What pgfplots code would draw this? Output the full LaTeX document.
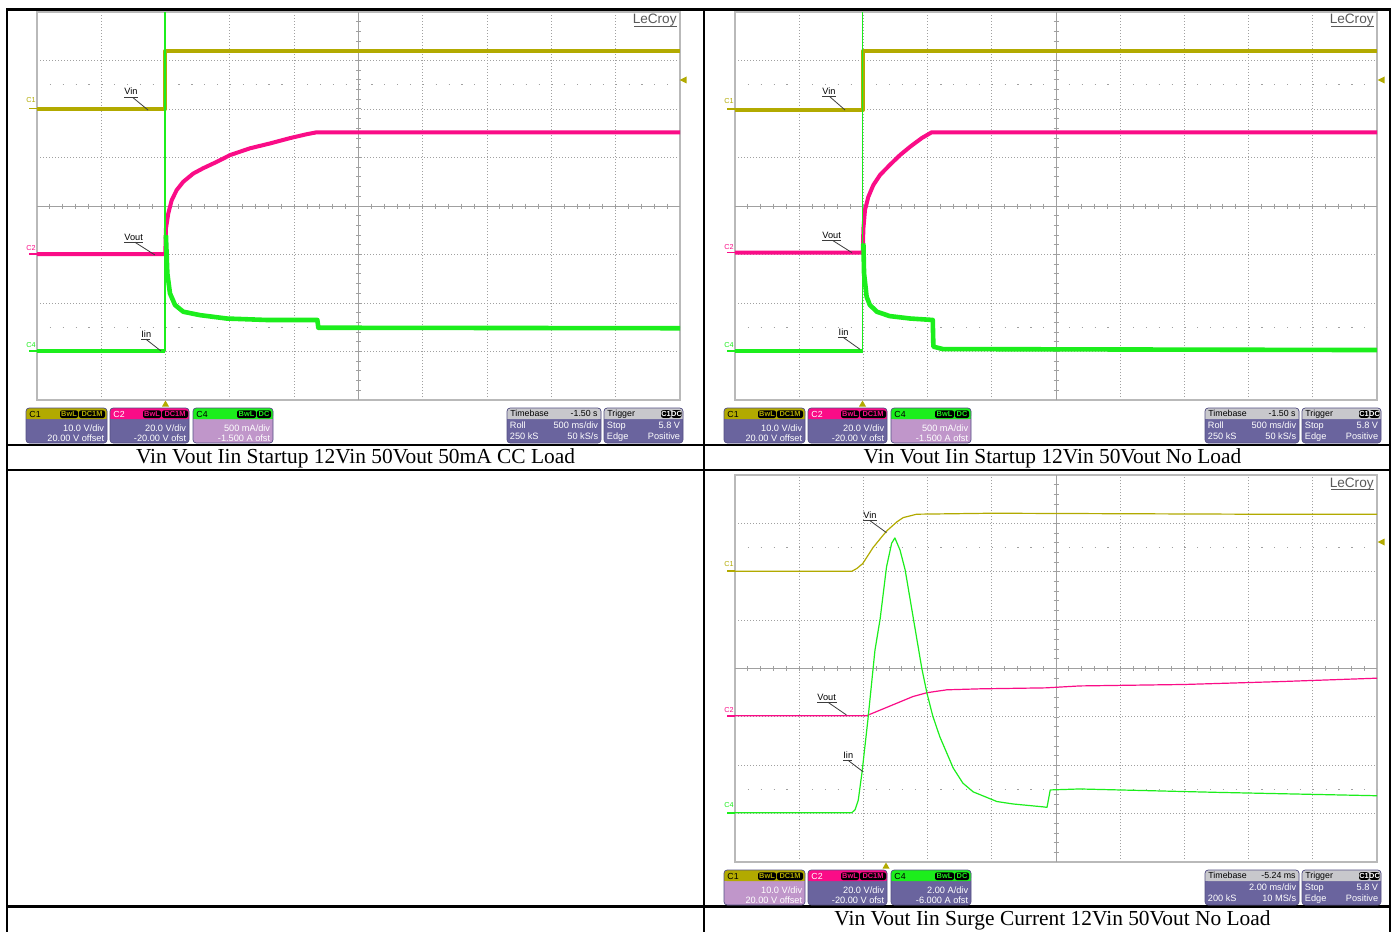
\documentclass[border=0pt]{standalone}
\usepackage{pgfplots}
\pgfplotsset{compat=1.18}
\usepackage{fontspec}
\setmainfont{Liberation Serif}
\newfontfamily\scopefont{Liberation Sans}

\definecolor{vinc}{RGB}{178,170,0}
\definecolor{voutc}{RGB}{250,12,135}
\definecolor{iinc}{RGB}{28,238,28}
\definecolor{gridc}{RGB}{160,160,160}
\definecolor{frmc}{RGB}{185,185,185}
\definecolor{boxc}{RGB}{106,100,158}
\definecolor{boxsel}{RGB}{192,150,202}
\definecolor{boxedge}{RGB}{84,80,132}
\definecolor{tbhead}{RGB}{200,200,204}
\definecolor{logoc}{RGB}{90,90,90}
\definecolor{leadc}{RGB}{60,60,60}

\pgfplotsset{
  scopeaxis/.style={
    anchor=south west, scale only axis,
    xmin=0, xmax=10, ymin=-4, ymax=4,
    axis line style={frmc, line width=0.55pt},
    xtick={1,...,9}, ytick={-3,...,3},
    xticklabels={}, yticklabels={},
    major tick length=0pt,
    xmajorgrids, ymajorgrids,
    major grid style={gridc, line width=0.45pt, dash pattern=on 0.5pt off 1pt},
  },
  thicktrace/.style={line width=2pt, line join=round},
  thintrace/.style={line width=0.6pt, line join=round},
}

% centre cross and the dotted rows at +-2.5 div
\newcommand{\scopegrat}[1]{%
  \draw[gridc, line width=0.5pt] (axis cs:5,-4) -- (axis cs:5,4);
  \draw[gridc, line width=0.5pt] (axis cs:0,0) -- (axis cs:10,0);
  \draw[gridc, line width=0.6pt, dash pattern=on 0.6pt off #1] (axis cs:0.2,2.5) -- (axis cs:10,2.5);
  \draw[gridc, line width=0.6pt, dash pattern=on 0.6pt off #1] (axis cs:0.2,-2.5) -- (axis cs:10,-2.5);
}
% sub-division ticks on the centre cross: left x, top y, div width, div height (px)
\newcommand{\crossticks}[4]{%
  \foreach \i in {1,...,49} {\draw[gridc, line width=0.5pt] (#1+\i*#3/5,#2+4*#4-2.5) -- ++(0,5);}
  \foreach \j in {1,...,39} {\draw[gridc, line width=0.5pt] (#1+5*#3-2.5,#2+\j*#4/5) -- ++(5,0);}
}

\tikzset{
  lbl/.style={inner sep=0, anchor=base west, font=\scopefont\fontsize{4.6}{5}\selectfont, text=black},
  hdr/.style={inner sep=0, anchor=base west, font=\scopefont\fontsize{4.4}{5}\selectfont, text=black},
  bodytxt/.style={inner sep=0, font=\scopefont\fontsize{4.6}{5}\selectfont, text=white},
  chm/.style={inner sep=0, font=\scopefont\fontsize{3.6}{4}\selectfont},
  leader/.style={leadc, line width=0.4pt},
}

% rounded info box: x, y, width, header colour, body colour
\newcommand{\infoframe}[5]{%
  \fill[#5, rounded corners=1.6pt] (#1,#2) rectangle ++(#3,35);
  \fill[#4, rounded corners=1.6pt] (#1,#2) rectangle ++(#3,11);
  \fill[#4] (#1,#2+5) rectangle ++(#3,6);
  \draw[boxedge, line width=0.35pt, rounded corners=1.6pt] (#1,#2) rectangle ++(#3,35);
}
% left and right text on one row: x, baseline, width, left, right
\newcommand{\lrtext}[5]{%
  \node[bodytxt, anchor=base west] at (#1+2.5,#2) {#4};
  \node[bodytxt, anchor=base east] at (#1+#3-2.5,#2) {#5};
}
% black badge: x, y, width, text colour, text
\newcommand{\chbadge}[5]{%
  \fill[black, rounded corners=1pt] (#1,#2) rectangle ++(#3,7.6);
  \node[inner sep=0, text=#4, font=\scopefont\bfseries\fontsize{3.7}{4}\selectfont] at (#1+#3/2,#2+3.9) {#5};
}
% the row of channel, timebase and trigger boxes
\newcommand{\infoboxes}[9]{%
  \infoframe{26}{408}{81}{vinc}{#1}
  \node[hdr] at (29,417.3) {C1};
  \chbadge{60}{410.4}{18}{vinc}{BwL}
  \chbadge{79}{410.4}{26}{vinc}{DC1M}
  \lrtext{26}{431}{81}{}{10.0 V/div}
  \lrtext{26}{441}{81}{}{20.00 V offset}
  \infoframe{110}{408}{79}{voutc}{boxc}
  \node[hdr, text=white] at (113,417.3) {C2};
  \chbadge{143}{410.4}{18}{voutc}{BwL}
  \chbadge{162}{410.4}{26}{voutc}{DC1M}
  \lrtext{110}{431}{79}{}{20.0 V/div}
  \lrtext{110}{441}{79}{}{-20.00 V ofst}
  \infoframe{193}{408}{80}{iinc}{#2}
  \node[hdr] at (196,417.3) {C4};
  \chbadge{237}{410.4}{19}{iinc}{BwL}
  \chbadge{257}{410.4}{14}{iinc}{DC}
  \lrtext{193}{431}{80}{}{#3}
  \lrtext{193}{441}{80}{}{#4}
  \infoframe{507}{408}{94}{tbhead}{boxc}
  \node[hdr] at (510,416.5) {Timebase};
  \node[hdr, anchor=base east] at (598,416.5) {#5};
  \lrtext{507}{428.5}{94}{#6}{#7}
  \lrtext{507}{439.3}{94}{#8}{#9}
  \infoframe{604}{408}{79}{tbhead}{boxc}
  \node[hdr] at (607,416.5) {Trigger};
  \chbadge{661}{410.2}{10}{white}{C1}
  \chbadge{671.5}{410.2}{10}{white}{DC}
  \lrtext{604}{428.5}{79}{Stop}{5.8 V}
  \lrtext{604}{439.3}{79}{Edge}{Positive}
}
% logo in the upper right corner of a graticule: right edge x, top y
\newcommand{\lecroylogo}[2]{%
  \fill[white] (#1-48,#2+1) rectangle (#1-1.5,#2+16);
  \node[inner sep=0, anchor=base east, text=logoc, font=\scopefont\fontsize{6.8}{7}\selectfont] at (#1-3,#2+12) {LeCroy};
  \draw[logoc, line width=0.6pt] (#1-46,#2+14.3) -- (#1-3,#2+14.3);
}

\begin{document}
\begin{tikzpicture}
\useasboundingbox (0pt,0pt) rectangle (695.5pt,-465.5pt);
\fill[white] (0pt,0pt) rectangle (695.5pt,-465.5pt);

\begin{scope}[x=0.5pt, y=-0.5pt]
\crossticks{37}{12}{64.3}{48.5}
\crossticks{735}{12}{64.2}{48.5}
\crossticks{735}{475}{64.2}{48.4}
\end{scope}

% ---------------- startup, 50 mA CC load ----------------
\begin{axis}[scopeaxis, at={(18.5pt,-200pt)}, width=321.5pt, height=194pt]
\scopegrat{5.83pt}
\addplot[vinc, thicktrace] coordinates {(0,1.99) (1.99,1.99) (1.99,3.19) (10,3.19)};
\addplot[voutc, thicktrace] coordinates {(0,-0.99) (1.995,-0.99) (2.006,-0.46) (2.042,-0.15) (2.095,0.12) (2.173,0.33) (2.275,0.50) (2.431,0.67) (2.586,0.78) (2.795,0.91) (3.002,1.05) (3.313,1.19) (3.624,1.29) (3.935,1.40) (4.194,1.48) (4.35,1.52) (10,1.52)};
\addplot[iinc, thicktrace] coordinates {(0,-2.98) (1.99,-2.98)};
\addplot[iinc, line width=0.6pt] coordinates {(1.99,-2.98) (1.99,4.3)};
\addplot[iinc, line width=2.3pt, line join=round] coordinates {(2.005,-0.6) (2.027,-1.39) (2.068,-1.80) (2.146,-2.04) (2.275,-2.18) (2.535,-2.25) (2.95,-2.32) (3.57,-2.35) (4.36,-2.35) (4.375,-2.51) (10,-2.52)};
\end{axis}

% ---------------- startup, no load ----------------
\begin{axis}[scopeaxis, at={(367.5pt,-200pt)}, width=321pt, height=194pt]
\scopegrat{5.82pt}
\addplot[vinc, thicktrace] coordinates {(0,1.98) (1.99,1.98) (1.99,3.19) (10,3.19)};
\addplot[voutc, thicktrace] coordinates {(0,-0.96) (1.99,-0.96) (2.0,-0.46) (2.025,-0.08) (2.077,0.19) (2.154,0.43) (2.259,0.64) (2.414,0.85) (2.57,1.05) (2.726,1.22) (2.908,1.40) (3.064,1.52) (10,1.52)};
\addplot[iinc, thicktrace] coordinates {(0,-2.98) (1.99,-2.98)};
\addplot[iinc, line width=0.6pt] coordinates {(1.99,-2.98) (1.99,4.3)};
\addplot[iinc, line width=2.3pt, line join=round] coordinates {(2.0,-0.77) (2.01,-1.39) (2.05,-1.87) (2.10,-2.04) (2.21,-2.18) (2.41,-2.27) (2.73,-2.32) (3.08,-2.35) (3.09,-2.90) (3.24,-2.95) (10,-2.97)};
\end{axis}

% ---------------- surge current, no load ----------------
\begin{axis}[scopeaxis, at={(367.5pt,-431pt)}, width=321pt, height=193.5pt]
\scopegrat{5.82pt}
\addplot[vinc, thintrace] coordinates {(0,2.01) (1.82,2.01) (1.90,2.07) (1.99,2.17) (2.15,2.50) (2.26,2.68) (2.36,2.84) (2.52,3.03) (2.62,3.12) (2.83,3.19) (4.0,3.21) (6.0,3.20) (8.0,3.19) (10,3.19)};
\addplot[voutc, thintrace] coordinates {(0,-0.975) (2.05,-0.975) (2.26,-0.86) (2.57,-0.69) (2.77,-0.58) (2.99,-0.50) (3.30,-0.44) (3.82,-0.42) (4.84,-0.40) (5.37,-0.36) (7.0,-0.33) (8.5,-0.27) (10,-0.20)};
\addplot[iinc, thintrace] coordinates {(0,-2.98) (1.82,-2.98) (1.87,-2.92) (1.92,-2.72) (1.98,-2.13) (2.07,-1.06) (2.18,0.38) (2.26,1.02) (2.36,2.10) (2.44,2.59) (2.49,2.70) (2.57,2.45) (2.65,2.04) (2.78,1.02) (2.91,0.0) (2.99,-0.51) (3.08,-0.98) (3.19,-1.41) (3.40,-2.06) (3.55,-2.37) (3.71,-2.55) (4.08,-2.75) (4.33,-2.80) (4.80,-2.86) (4.86,-2.87) (4.91,-2.51) (5.37,-2.49) (7.5,-2.56) (10,-2.63)};
\end{axis}

\begin{scope}[x=0.5pt, y=-0.5pt]
% table rules
\draw[line width=1.25pt] (7,931.5) -- (7,9.6) -- (1389.8,9.6) -- (1389.8,931.5);
\draw[line width=1.1pt] (703.6,9.6) -- (703.6,931.5);
\draw[line width=1.1pt] (7,444.6) -- (1389.8,444.6);
\draw[line width=1.1pt] (7,469.6) -- (1389.8,469.6);
\draw[line width=1.1pt] (7,906.4) -- (1389.8,906.4);

% captions
\node[inner sep=0, anchor=base, font=\fontsize{10.7}{12}\selectfont] at (355.5,463) {Vin Vout Iin Startup 12Vin 50Vout 50mA CC Load};
\node[inner sep=0, anchor=base, font=\fontsize{10.7}{12}\selectfont] at (1052.5,463) {Vin Vout Iin Startup 12Vin 50Vout No Load};
\node[inner sep=0, anchor=base, font=\fontsize{10.7}{12}\selectfont] at (1052.5,925.3) {Vin Vout Iin Surge Current 12Vin 50Vout No Load};

% ---- first screen ----
\lecroylogo{680}{12}
\node[chm, text=vinc] at (31,100.5) {C1};
\draw[vinc, line width=0.8pt] (29,108.5) -- (37,108.5);
\node[chm, text=voutc] at (31,248) {C2};
\draw[voutc, line width=0.8pt] (29,254) -- (37,254);
\node[chm, text=iinc] at (31,345) {C4};
\draw[iinc, line width=0.8pt] (29,351) -- (37,351);
\node[lbl] at (124,95) {Vin};
\draw[leadc, line width=0.4pt] (124,97.7) -- (138,97.7);
\draw[leader] (133,97.7) -- (148,110);
\node[lbl] at (124,240) {Vout};
\draw[leadc, line width=0.4pt] (124,242.3) -- (143,242.3);
\draw[leader] (135,242.3) -- (155,255);
\node[lbl] at (141,337) {Iin};
\draw[leadc, line width=0.4pt] (141,339.3) -- (149.5,339.3);
\draw[leader] (146,339.3) -- (161,351);
\fill[vinc] (165.5,400.5) -- (169,406.5) -- (162,406.5) -- cycle;
\fill[vinc] (679.5,80) -- (686.5,76.5) -- (686.5,83.5) -- cycle;
\infoboxes{boxc}{boxsel}{500 mA/div}{-1.500 A ofst}{-1.50 s}{Roll}{500 ms/div}{250 kS}{50 kS/s}

% ---- second screen ----
\lecroylogo{1377}{12}
\node[chm, text=vinc] at (729,101) {C1};
\draw[vinc, line width=0.8pt] (727,109) -- (735,109);
\node[chm, text=voutc] at (729,247) {C2};
\draw[voutc, line width=0.8pt] (727,252.5) -- (735,252.5);
\node[chm, text=iinc] at (729,345) {C4};
\draw[iinc, line width=0.8pt] (727,351) -- (735,351);
\node[lbl] at (822,95) {Vin};
\draw[leadc, line width=0.4pt] (822,96.9) -- (836,96.9);
\draw[leader] (830,96.9) -- (845,110);
\node[lbl] at (822,238.3) {Vout};
\draw[leadc, line width=0.4pt] (822,240.7) -- (841,240.7);
\draw[leader] (833,240.7) -- (852,252.7);
\node[lbl] at (838.3,335) {Iin};
\draw[leadc, line width=0.4pt] (838.3,337.3) -- (846.8,337.3);
\draw[leader] (843,337.3) -- (860,349.3);
\fill[vinc] (862.5,400.5) -- (866,406.5) -- (859,406.5) -- cycle;
\fill[vinc] (1377.5,80) -- (1384.5,76.5) -- (1384.5,83.5) -- cycle;
\begin{scope}[shift={(698,0)}]
\infoboxes{boxc}{boxsel}{500 mA/div}{-1.500 A ofst}{-1.50 s}{Roll}{500 ms/div}{250 kS}{50 kS/s}
\end{scope}

% ---- third screen ----
\lecroylogo{1377}{475}
\node[chm, text=vinc] at (729,564) {C1};
\draw[vinc, line width=0.8pt] (727,571) -- (735,571);
\node[chm, text=voutc] at (729,710) {C2};
\draw[voutc, line width=0.8pt] (727,715.7) -- (735,715.7);
\node[chm, text=iinc] at (729,805.5) {C4};
\draw[iinc, line width=0.8pt] (727,812.7) -- (735,812.7);
\node[lbl] at (863,518.3) {Vin};
\draw[leadc, line width=0.4pt] (863,520.7) -- (877,520.7);
\draw[leader] (870,520.7) -- (886.5,532.7);
\node[lbl] at (817,700) {Vout};
\draw[leadc, line width=0.4pt] (817,702.3) -- (836.5,702.3);
\draw[leader] (828,702.3) -- (846.5,715);
\node[lbl] at (843,758) {Iin};
\draw[leadc, line width=0.4pt] (843,760.3) -- (851.5,760.3);
\draw[leader] (848,760.3) -- (863,771.7);
\fill[vinc] (886,862.5) -- (889.5,868.5) -- (882.5,868.5) -- cycle;
\fill[vinc] (1377.5,542) -- (1384.5,538.5) -- (1384.5,545.5) -- cycle;
\begin{scope}[shift={(698,462)}]
\infoboxes{boxsel}{boxc}{2.00 A/div}{-6.000 A ofst}{-5.24 ms}{}{2.00 ms/div}{200 kS}{10 MS/s}
\end{scope}
\end{scope}
\end{tikzpicture}
\end{document}
